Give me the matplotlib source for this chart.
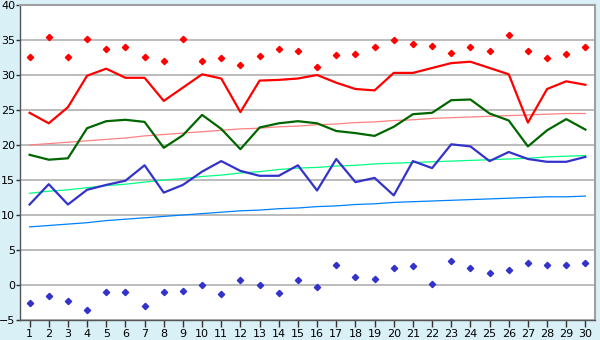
import matplotlib
matplotlib.use("Agg")
import matplotlib.pyplot as plt
import numpy as np

# daily values
days = np.arange(1, 31)

max_temp = [32.6, 35.4, 32.6, 35.2, 33.7, 34.0, 32.6, 32.0, 35.2, 32.0,
            32.4, 31.5, 32.7, 33.7, 33.4, 31.1, 32.8, 33.0, 34.0, 35.0,
            34.4, 34.2, 33.1, 34.0, 33.5, 35.7, 33.4, 32.5, 33.0, 34.0]
day_max = [24.6, 23.1, 25.4, 29.9, 30.9, 29.6, 29.6, 26.3, 28.2, 30.1,
           29.5, 24.7, 29.2, 29.3, 29.5, 30.0, 28.9, 28.0, 27.8, 30.3,
           30.3, 31.0, 31.7, 31.9, 31.0, 30.1, 23.2, 28.0, 29.1, 28.6]
day_mean = [18.6, 17.9, 18.1, 22.4, 23.4, 23.6, 23.3, 19.6, 21.4, 24.3,
            22.3, 19.4, 22.5, 23.1, 23.4, 23.1, 22.0, 21.7, 21.3, 22.6,
            24.4, 24.6, 26.4, 26.5, 24.5, 23.5, 19.8, 22.1, 23.7, 22.2]
day_min = [11.5, 14.4, 11.5, 13.6, 14.3, 14.9, 17.1, 13.2, 14.3, 16.2,
           17.7, 16.3, 15.6, 15.6, 17.1, 13.5, 18.0, 14.7, 15.3, 12.8,
           17.7, 16.7, 20.1, 19.8, 17.7, 19.0, 18.0, 17.6, 17.6, 18.3]
min_temp = [-2.6, -1.5, -2.3, -3.6, -1.0, -1.0, -3.0, -1.0, -0.8, 0.0,
            -1.3, 0.7, 0.0, -1.2, 0.7, -0.3, 2.8, 1.2, 0.9, 2.5,
            2.7, 0.2, 3.4, 2.5, 1.7, 2.1, 3.1, 2.9, 2.9, 3.1]

# long-term normals
norm_max = [20.0, 20.2, 20.4, 20.6, 20.8, 21.0, 21.3, 21.5, 21.7, 21.9,
            22.1, 22.3, 22.4, 22.6, 22.7, 22.9, 23.0, 23.2, 23.3, 23.5,
            23.6, 23.8, 23.9, 24.0, 24.1, 24.2, 24.3, 24.4, 24.5, 24.5]
norm_mean = [13.1, 13.4, 13.6, 13.9, 14.2, 14.4, 14.7, 15.0, 15.2, 15.5,
             15.7, 16.0, 16.2, 16.5, 16.7, 16.8, 17.0, 17.1, 17.3, 17.4,
             17.5, 17.6, 17.7, 17.8, 17.9, 18.0, 18.1, 18.3, 18.4, 18.5]
norm_min = [8.3, 8.5, 8.7, 8.9, 9.2, 9.4, 9.6, 9.8, 10.0, 10.2,
            10.4, 10.6, 10.7, 10.9, 11.0, 11.2, 11.3, 11.5, 11.6, 11.8,
            11.9, 12.0, 12.1, 12.2, 12.3, 12.4, 12.5, 12.6, 12.6, 12.7]

fig = plt.figure(figsize=(6, 3.4), dpi=100, facecolor='#d9f0f7')
ax = fig.add_axes([20/600, 1 - 320/340, 575/600, 315/340])
ax.set_facecolor('white')

for y in range(-5, 41, 5):
    ax.axhline(y, color='#b0b0b0', lw=1.2, zorder=0)

ax.plot(days, norm_max, color='#ff8080', lw=0.9)
ax.plot(days, norm_mean, color='#00ff80', lw=0.9)
ax.plot(days, norm_min, color='#0080ff', lw=0.9)

ax.plot(days, day_max, color='#ff0000', lw=1.6)
ax.plot(days, day_mean, color='#006600', lw=1.6)
ax.plot(days, day_min, color='#3333cc', lw=1.6)

ax.plot(days, max_temp, ls='none', marker='D', ms=3.2, color='#ff0000')
ax.plot(days, min_temp, ls='none', marker='D', ms=3.2, color='#3333cc')

ax.set_xlim(0.5, 30.5)
ax.set_ylim(-5, 40)
ax.set_xticks(days)
ax.set_yticks(range(-5, 41, 5))
ax.tick_params(axis='x', direction='out', length=5, width=1,
               color='#333333', labelsize=8, pad=1.5)
ax.tick_params(axis='y', direction='out', length=3, width=1,
               color='#333333', labelsize=8, pad=0.5)

for side in ['top', 'right']:
    ax.spines[side].set_color('#a0a0a0')
    ax.spines[side].set_linewidth(1.5)
for side in ['left', 'bottom']:
    ax.spines[side].set_color('#555555')
    ax.spines[side].set_linewidth(1)

fig.savefig('out.png', dpi=100, facecolor=fig.get_facecolor())
